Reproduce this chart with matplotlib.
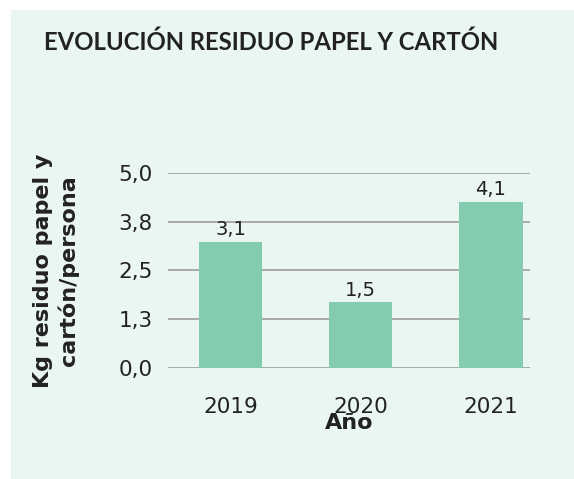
import matplotlib
matplotlib.use("Agg")
import matplotlib.pyplot as plt
from matplotlib.patches import Rectangle

# -----------------------------
# DATA
# -----------------------------
years = ["2019", "2020", "2021"]
bar_heights = [3.22, 1.68, 4.25]
bar_labels = ["3,1", "1,5", "4,1"]
y_ticks = [0.0, 1.25, 2.5, 3.75, 5.0]
y_tick_labels = ["0,0", "1,3", "2,5", "3,8", "5,0"]

title = "EVOLUCIÓN RESIDUO PAPEL Y CARTÓN"
x_label = "Año"
y_label = "Kg residuo papel y\ncartón/persona"

panel_color = "#EAF6F1"
bar_color = "#84CCAF"
grid_color = "#A3A3A3"
text_color = "#222222"

plt.rcParams['font.family'] = ['DejaVu Sans']

fig = plt.figure(figsize=(5.74, 4.79), dpi=100)
fig.patch.set_facecolor("white")

# panel background
fig.patches.append(Rectangle((11 / 574, 0), 1 - 11 / 574, 1 - 10 / 479,
                             transform=fig.transFigure, facecolor=panel_color,
                             edgecolor="none", zorder=-5))

ax = fig.add_axes([168 / 574, 1 - 368 / 479, 362 / 574, 195.3 / 479])
ax.set_facecolor("none")
ax.set_zorder(2)

x = list(range(len(years)))
ax.bar(x, bar_heights, width=0.485, color=bar_color, zorder=3)

for xi, h, lab in zip(x, bar_heights, bar_labels):
    ax.annotate(lab, (xi, h), xytext=(0, 2), textcoords="offset points",
                ha="center", va="bottom", fontsize=14, color=text_color)

ax.set_xlim(-0.48, 2.30)
ax.set_ylim(0, 5)
ax.set_yticks(y_ticks)
ax.set_yticklabels(y_tick_labels)
ax.set_xticks(x)
ax.set_xticklabels(years)
ax.tick_params(axis="y", length=0, pad=11, labelsize=15.5, labelcolor=text_color)
ax.tick_params(axis="x", length=0, pad=21, labelsize=15.5, labelcolor=text_color)

for s in ax.spines.values():
    s.set_visible(False)
ax.yaxis.grid(True, color=grid_color, linewidth=1.3, zorder=1)
ax.set_axisbelow(True)

ax.set_xlabel(x_label, fontsize=16, fontweight="bold", color=text_color, labelpad=-3)
ax.set_ylabel(y_label, fontsize=16, fontweight="bold", color=text_color,
              labelpad=28, linespacing=1.3)

fig.text(271 / 574, 1 - 42 / 479, title, ha="center", va="center",
         fontsize=17.2, fontweight="bold", color=text_color, family="Lato")

fig.savefig("out.png", dpi=100, facecolor=fig.get_facecolor())
